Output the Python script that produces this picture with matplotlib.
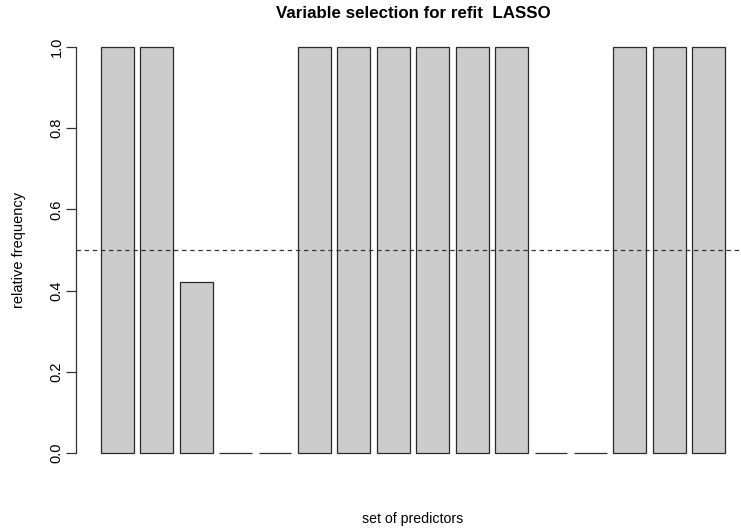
import matplotlib
matplotlib.use("Agg")
import matplotlib.pyplot as plt
import numpy as np

plt.rcParams['font.family'] = ['Liberation Sans', 'DejaVu Sans']

predictors = [f"x{i}" for i in range(1, 17)]
frequency = [1.0, 1.0, 0.42, 0.0, 0.0, 1.0, 1.0, 1.0, 1.0, 1.0, 1.0, 0.0, 0.0, 1.0, 1.0, 1.0]
threshold = 0.5
yticks = [0.0, 0.2, 0.4, 0.6, 0.8, 1.0]

W, H = 741, 531
fig = plt.figure(figsize=(W / 100, H / 100), dpi=100)
left, right = 76 / W, 750 / W
bottom, top = (H - 469.2) / H, (H - 30.8) / H
ax = fig.add_axes([left, bottom, right - left, top - bottom])

n = len(frequency)
centers = 0.7 + 1.2 * np.arange(n)
ax.bar(centers, frequency, width=1.0, color="#CCCCCC", edgecolor="#2b2b2b", linewidth=0.9)
ax.axhline(threshold, color="#333333", linestyle=(0, (3.5, 3)), linewidth=0.9)

ax.set_xlim(0.2 - 0.04 * 19, 19.2 + 0.04 * 19)
ax.set_ylim(-0.04, 1.04)
for s in ["top", "right", "bottom"]:
    ax.spines[s].set_visible(False)
ax.spines["left"].set_bounds(0, 1)
ax.spines["left"].set_color("#333333")
ax.spines["left"].set_linewidth(0.9)
ax.set_xticks([])
ax.set_yticks(yticks)
ax.set_yticklabels([f"{v:.1f}" for v in yticks], rotation=90, va="center", fontsize=10.5)
ax.tick_params(axis="y", length=7, width=0.9, color="#333333", pad=2)

fig.text(413 / W, 1 - 13 / H, "Variable selection for refit  LASSO",
         ha="center", va="center", fontsize=12.2, fontweight="bold")
fig.text(413 / W, 1 - 519 / H, "set of predictors", ha="center", va="center", fontsize=10.2)
fig.text(19 / W, 1 - 250 / H, "relative frequency", ha="center", va="center", rotation=90, fontsize=10.5)

fig.savefig("out.png", dpi=100)
